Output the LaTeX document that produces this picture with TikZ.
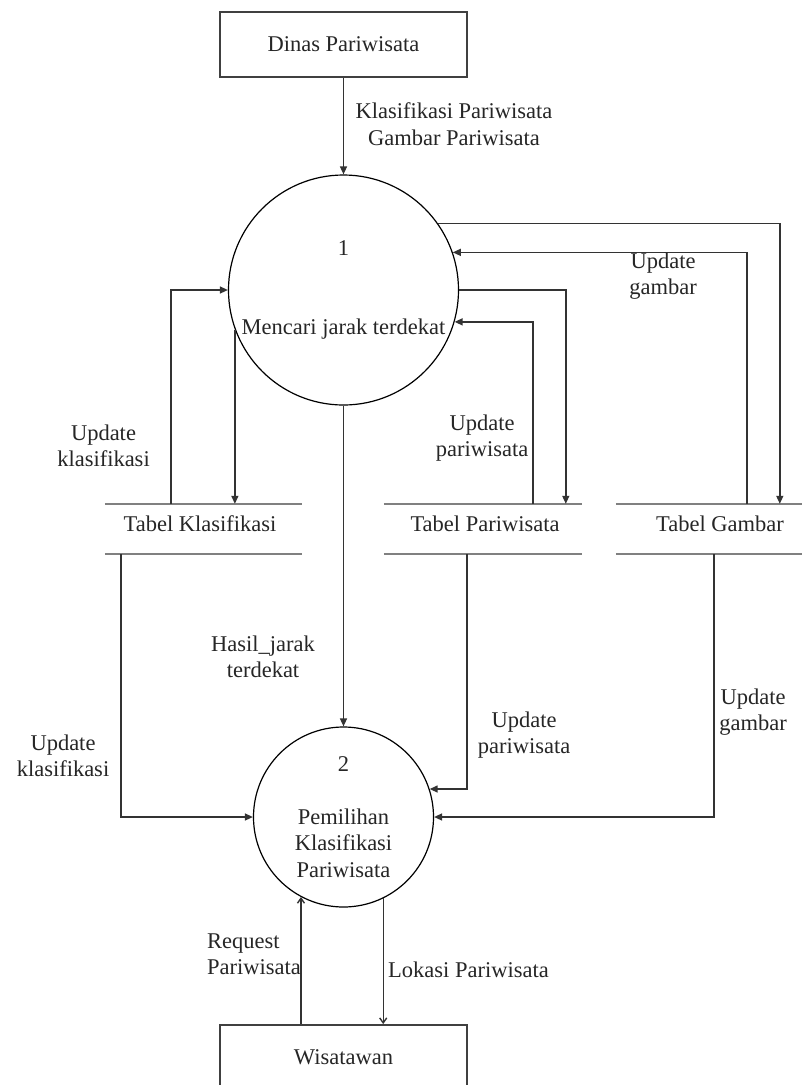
\documentclass[tikz,border=0pt]{standalone}
\usepackage{fontspec}
\setmainfont{Liberation Serif}
\newfontfamily\dfdfont{Liberation Serif}
\usetikzlibrary{arrows.meta,calc}
\begin{document}
\begin{tikzpicture}[x=1pt,y=-1pt,
  every node/.style={font=\dfdfont\fontsize{22.5}{26.5}\selectfont, text=black!85},
  ln/.style={draw=black!80, line width=1.4pt},
  arr/.style={ln, -{Triangle[length=8pt,width=7pt]}},
  barb/.style={ln, -{Straight Barb[length=5pt,width=7pt]}},
  entity/.style={draw=black!75, line width=1.8pt, minimum width=247pt, minimum height=65pt, inner sep=0pt},
  proc/.style={circle, draw=black, line width=1.2pt, minimum size=#1, inner sep=0pt, align=center},
  store/.style={minimum width=#1, minimum height=50pt, inner sep=0pt},
  storeline/.style={draw=black!50, line width=2.5pt},
  lbl/.style={align=center, inner sep=0pt}
]
\useasboundingbox (0,0) rectangle (802,1085);

% external entities
\node[entity] (dinas) at (343.5,44.5) {Dinas Pariwisata};
\node[entity] (wis) at (343.5,1057.5) {Wisatawan};

% processes
\node[proc=230pt] (c1) at (343.5,290) {1\\[52.5pt]Mencari jarak terdekat};
\node[proc=180pt] (c2) at (343.5,817) {2\\[26.5pt]Pemilihan\\Klasifikasi\\Pariwisata};

% data stores
\node[store=197pt, label={[xshift=-3.5pt,yshift=5pt]center:Tabel Klasifikasi}] (ts1) at (203.5,529) {};
\node[store=198pt, label={[xshift=2pt,yshift=5pt]center:Tabel Pariwisata}] (tp) at (483,529) {};
\node[store=208pt, label={[yshift=5pt]center:Tabel Gambar}] (tg) at (720,529) {};
\foreach \s in {ts1,tp,tg}{
  \draw[storeline] (\s.north west) -- (\s.north east) (\s.south west) -- (\s.south east);
}

% connectors
\draw[arr] (dinas) -- (c1);
\draw[arr] (c1.35) -| ($(tg.north west)+(164,0)$);
\draw[arr] ($(tg.north west)+(131,0)$) |- (c1.19.3);
\draw[arr] (c1.east) -| ($(tp.north west)+(182,0)$);
\draw[arr] ($(tp.north west)+(149,0)$) |- (c1.-16.7);
\draw[arr] ($(ts1.north west)+(66,0)$) |- (c1.west);
\draw[arr] (c1.200.8) -- (c1.200.8 |- ts1.north);
\draw[arr] (c1) -- (c2);
\draw[arr] ($(ts1.south west)+(16,0)$) |- (c2.west);
\draw[arr] ($(tp.south west)+(83,0)$) |- (c2.18.8);
\draw[arr] ($(tg.south west)+(98,0)$) |- (c2.east);
\draw[barb] (c2.242.5 |- wis.north) -- (c2.242.5);
\draw[barb] (c2.296.7) -- (c2.296.7 |- wis.north);

% labels
\node[lbl] (l1) at (454,124) {Klasifikasi Pariwisata\\Gambar Pariwisata};
\node[lbl] (l2) at (663,276) {Update\\gambar};
\node[lbl] (l3) at (482,438) {Update\\pariwisata};
\node[lbl] (l4) at (103.5,446) {Update\\klasifikasi};
\node[lbl] (l5) at (263,657) {Hasil\_jarak\\terdekat};
\node[lbl] (l6) at (63,756) {Update\\klasifikasi};
\node[lbl] (l7) at (524,735) {Update\\pariwisata};
\node[lbl] (l8) at (753,712) {Update\\gambar};
\node[lbl, align=left, anchor=west] (l9) at (207,954) {Request\\Pariwisata};
\node[lbl, anchor=west] (l10) at (388,970) {Lokasi Pariwisata};
\end{tikzpicture}
\end{document}
